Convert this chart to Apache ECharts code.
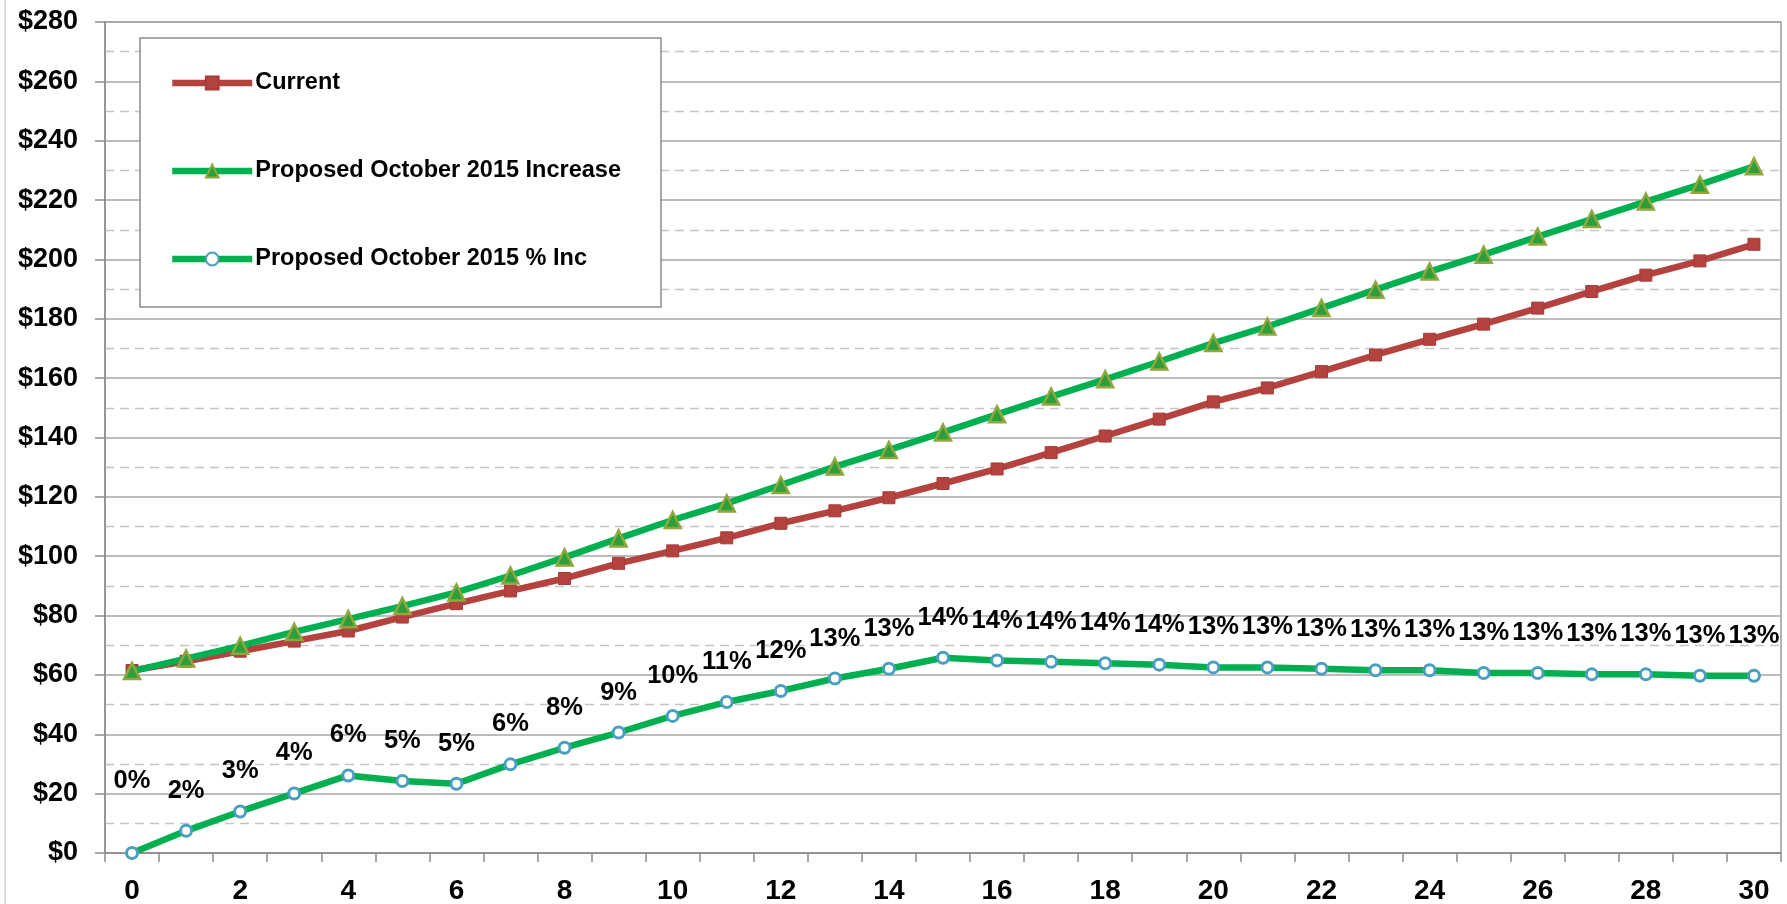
<!DOCTYPE html>
<html>
<head>
<meta charset="utf-8">
<title>Current vs Proposed October 2015</title>
<script src="https://cdn.jsdelivr.net/npm/echarts@6/dist/echarts.min.js"></script>
<style>
  html, body { margin: 0; padding: 0; background: #fff; }
  #chart { width: 1787px; height: 904px; }
</style>
</head>
<body>
<div id="chart"></div>
<script>
;(function() {
  // x categories (years)
  var years = [];
  for (var i = 0; i <= 30; i++) years.push(String(i));

  var currentVals = [61.5, 64.6, 68.0, 71.4, 74.8, 79.5, 84.0, 88.3, 92.5, 97.6,
    101.8, 106.2, 111.1, 115.3, 119.7, 124.5, 129.4, 134.9, 140.5, 146.2,
    152.0, 156.7, 162.2, 167.8, 173.1, 178.2, 183.6, 189.2, 194.7, 199.5, 205.1];

  var proposedVals = [61.3, 65.5, 69.8, 74.5, 78.8, 83.2, 87.8, 93.5, 99.6, 106.0,
    112.2, 117.8, 124.0, 130.2, 135.8, 141.7, 147.8, 153.8, 159.6, 165.6,
    171.8, 177.4, 183.6, 189.8, 195.9, 201.6, 207.7, 213.6, 219.5, 225.2, 231.4];

  // percent increase, plotted on a hidden 0-60% axis
  var pctVals = [0, 1.6, 3.0, 4.3, 5.6, 5.2, 5.0, 6.4, 7.6, 8.7,
    9.9, 10.9, 11.7, 12.6, 13.3, 14.1, 13.9, 13.8, 13.7, 13.6,
    13.4, 13.4, 13.3, 13.2, 13.2, 13.0, 13.0, 12.9, 12.9, 12.8, 12.8];

  var seriesNames = ['Current', 'Proposed October 2015 Increase', 'Proposed October 2015 % Inc'];

  var font = "'Liberation Sans', Arial, sans-serif";

  var pctData = pctVals.map(function(v, i) {
    var item = { value: v };
    if (i === 0) item.label = { offset: [0, -72] };
    return item;
  });

  var chart = echarts.init(document.getElementById('chart'));

  chart.setOption({
    animation: false,
    backgroundColor: '#fff',
    grid: {
      left: 105, right: 6, top: 22, bottom: 51,
      outerBoundsMode: 'none',
      show: true, borderColor: '#9a9a9a', borderWidth: 1.5
    },
    graphic: [
      { type: 'line', shape: { x1: 5, y1: 0, x2: 5, y2: 904 }, style: { stroke: '#d0d0d0', lineWidth: 1.5 }, silent: true },
      { type: 'rect', z: 3, shape: { x: 140, y: 38, width: 521, height: 269 },
        style: { fill: '#fff', stroke: '#8c8c8c', lineWidth: 1.5 }, silent: true }
    ],
    legend: {
      orient: 'vertical',
      left: 164, top: 66,
      z: 5,
      itemWidth: 80, itemHeight: 16, itemGap: 64,
      lineStyle: { width: 6.5 },
      textStyle: { fontFamily: font, fontWeight: 'bold', fontSize: 23.5, color: '#000', padding: [0, 0, 0, -2] },
      data: seriesNames
    },
    xAxis: {
      type: 'category',
      data: years,
      boundaryGap: true,
      axisLine: { lineStyle: { color: '#8c8c8c', width: 1.5 } },
      axisTick: { show: true, interval: 0, length: 9, lineStyle: { color: '#8c8c8c', width: 1.5 } },
      axisLabel: { interval: 1, margin: 24, fontFamily: font, fontWeight: 'bold', fontSize: 28, color: '#000' },
      splitLine: { show: false }
    },
    yAxis: [{
      type: 'value',
      min: 0, max: 280, interval: 20,
      axisLine: { show: true, lineStyle: { color: '#8c8c8c', width: 1.5 } },
      axisTick: { show: true, length: 10, lineStyle: { color: '#8c8c8c', width: 1.5 } },
      axisLabel: {
        margin: 27, fontFamily: font, fontWeight: 'bold', fontSize: 27, color: '#000',
        formatter: function(v) { return '$' + v; }
      },
      splitLine: { show: true, lineStyle: { color: '#a6a6a6', width: 1.5 } },
      minorTick: { show: false, splitNumber: 2 },
      minorSplitLine: { show: true, lineStyle: { color: '#c4c4c4', width: 1.3, type: [9, 6] } }
    }, {
      type: 'value',
      min: 0, max: 60,
      show: false,
      splitLine: { show: false }
    }],
    series: [{
      name: seriesNames[0],
      type: 'line',
      data: currentVals,
      z: 3,
      symbol: 'rect', symbolSize: 12,
      lineStyle: { color: '#B4423E', width: 6.5 },
      itemStyle: { color: '#B4423E', borderColor: '#A63B38', borderWidth: 1 }
    }, {
      name: seriesNames[1],
      type: 'line',
      data: proposedVals,
      z: 4,
      symbol: 'triangle', symbolSize: 16,
      lineStyle: { color: '#00B050', width: 6.5 },
      itemStyle: { color: '#2E9E3A', borderColor: '#8FA83E', borderWidth: 2.5 }
    }, {
      name: seriesNames[2],
      type: 'line',
      yAxisIndex: 1,
      data: pctData,
      z: 4,
      symbol: 'circle', symbolSize: 11,
      lineStyle: { color: '#00B050', width: 6.5 },
      itemStyle: { color: '#fff', borderColor: '#4A9FC0', borderWidth: 3 },
      label: {
        show: true,
        position: 'inside',
        offset: [0, -40],
        fontFamily: font, fontWeight: 'bold', fontSize: 25.5, color: '#000',
        formatter: function(p) { return Math.round(p.value) + '%'; }
      }
    }]
  });

  window.addEventListener('resize', function() { chart.resize(); });
})();
</script>
</body>
</html>
